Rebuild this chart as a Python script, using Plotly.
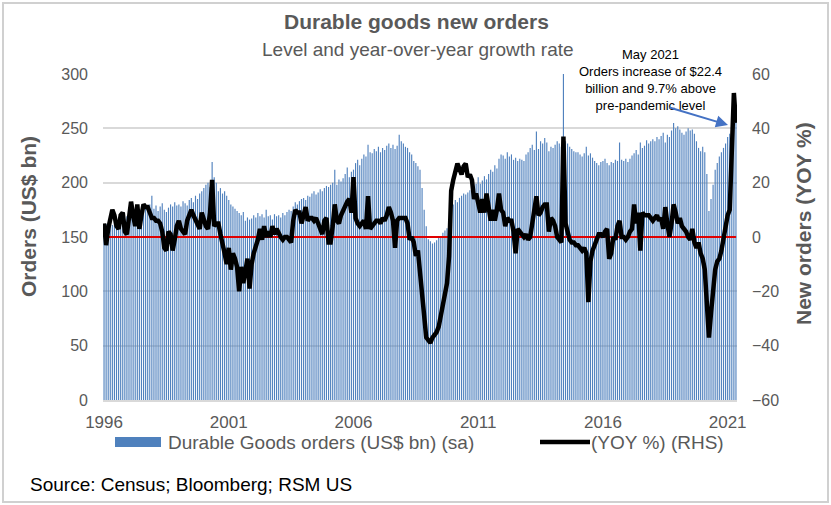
import pandas as pd
import plotly.graph_objects as go

# Durable goods new orders, US$ bn (sa), monthly Jan 1996 - May 2021
orders_bn = [
    158, 162, 160, 164, 161, 165, 163, 167, 164, 168, 166, 169,  # 1996
    170, 168, 173, 171, 175, 172, 176, 174, 178, 175, 180, 188,  # 1997
    176, 179, 174, 178, 181, 175, 173, 177, 180, 178, 182, 179,  # 1998
    180, 178, 183, 181, 179, 184, 186, 182, 188, 185, 190, 192,  # 1999
    195, 198, 200, 196, 219, 205, 200, 192, 195, 190, 192, 188,  # 2000
    184, 180, 178, 176, 174, 172, 170, 173, 165, 168, 166, 167,  # 2001
    170, 168, 172, 169, 171, 168, 175, 169, 170, 166, 171, 169,  # 2002
    170, 168, 172, 170, 173, 175, 174, 178, 182, 180, 183, 185,  # 2003
    186, 184, 188, 187, 190, 192, 189, 191, 194, 192, 195, 197,  # 2004
    196, 198, 200, 212, 198, 203, 201, 204, 208, 214, 205, 210,  # 2005
    212, 218, 221, 216, 222, 226, 224, 235, 228, 227, 231, 229,  # 2006
    233, 228, 232, 230, 234, 236, 232, 235, 231, 234, 244, 238,  # 2007
    236, 233, 232, 228, 226, 220, 218, 215, 212, 195, 175, 160,  # 2008
    148, 146, 144, 145, 147, 150, 151, 154, 156, 158, 160, 163,  # 2009
    180, 184, 182, 186, 188, 190, 189, 191, 193, 192, 196, 199,  # 2010
    205, 199, 202, 206, 203, 208, 212, 210, 216, 213, 222, 226,  # 2011
    225, 222, 228, 224, 226, 221, 223, 220, 222, 221, 220, 226,  # 2012
    228, 232, 235, 230, 247, 231, 238, 236, 241, 237, 229, 233,  # 2013
    232, 235, 238, 236, 233, 300, 238, 236, 233, 231, 229, 228,  # 2014
    228, 226, 224, 227, 233, 225, 227, 223, 220, 218, 216, 219,  # 2015
    220, 222, 218, 216, 219, 218, 221, 220, 237, 221, 220, 222,  # 2016
    219, 222, 225, 227, 230, 226, 237, 232, 234, 239, 236, 238,  # 2017
    240, 238, 242, 240, 243, 246, 237, 244, 242, 248, 255, 250,  # 2018
    252, 249, 246, 244, 247, 250, 248, 249, 245, 238, 232, 229,  # 2019
    233, 228, 208, 174, 185, 198, 212, 218, 224, 228, 232, 236,  # 2020
    242, 245, 250, 252, 256,                                      # 2021
]

# Year-over-year growth rate, %
yoy_pct = [
    5, -3, 3, 6, 10, 8, 4, 3, 8, 9, 2, 1,              # 1996
    6, 13, 8, 4, 12, 3, 8, 12, 11, 11, 9, 7,           # 1997
    7, 6, 6, 5, 2, -4, -5, 2, 1, -5, -1, 4,            # 1998
    6, 3, 2, 1, 6, 8, 10, 8, 6, 4, 3, 9,               # 1999
    6, 4, 3, 9, 21, 4, 5, 5, 1, -2, -6, -10,           # 2000
    -4, -12, -6, -8, -11, -20, -11, -17, -12, -8, -19, -10,  # 2001
    -6, -4, -1, 3, -1, 4, 0, 2, 0, 4, 1, 3,            # 2002
    1, 0, -1, 0, 0, -1, -2, 6, 10, 9, 9, 5,            # 2003
    9, 11, 6, 7, 7, 6, 7, 5, 3, 1, 6, 7,               # 2004
    -2, -2, 4, 12, 6, 5, 8, 10, 12, 13, 14, 9,         # 2005
    22, 7, 5, 4, 5, 6, 3, 15, 3, 4, 5, 6,              # 2006
    6, 5, 7, 6, 8, 11, 9, 6, -4, 6, 7, 7,              # 2007
    7, 7, 5, -1, 0, -2, -7, -5, -13, -22, -31, -37,    # 2008
    -38, -39, -37, -36, -35, -33, -29, -26, -22, -17, -7, 17,  # 2009
    21, 25, 27, 25, 23, 26, 27, 22, 23, 21, 14, 16,    # 2010
    12, 9, 14, 9, 16, 12, 6, 10, 6, 10, 16, 10,        # 2011
    9, 4, 7, 6, 6, 2, -6, 3, 2, 1, 0, 1,               # 2012
    -1, 0, 5, 10, 15, 8, 9, 11, 12, 12, 2, 7,          # 2013
    6, 4, 0, -1, -2, 37, 5, 2, -1, -2, -2, -3,         # 2014
    -3, -4, -5, -4, -6, -24, -9, -5, -3, -1, 1, 1,     # 2015
    0, 2, 3, -8, -6, 0, -1, 4, 6, 0, 0, -1,            # 2016
    0, 2, 3, 12, 5, 9, -5, 9, 8, 8, 8, 7,              # 2017
    6, 7, 8, 6, 7, 3, 11, 5, 0, 5, 12, 9,              # 2018
    5, 7, 4, 3, 2, 0, -1, 3, -2, -4, -2, -6,           # 2019
    -8, -12, -26, -37, -28, -18, -12, -9, -8, -5, 0, 5,  # 2020
    8, 10, 30, 53, 42,                                 # 2021
]

tick_years = [1996, 2001, 2006, 2011, 2016, 2021]
zero_ref = 0

months = pd.date_range("1996-01-01", periods=len(orders_bn), freq="MS").strftime("%Y-%m").tolist()
tickvals = [f"{y}-01" for y in tick_years]
ticktext = [str(y) for y in tick_years]

FONT = "Arial, 'Liberation Sans', sans-serif"
GREY = "#595959"
BAR_BLUE = "rgba(79,129,189,0.99)"

fig = go.Figure()
fig.add_trace(go.Bar(
    x=months, y=orders_bn, name="Durable Goods orders (US$ bn) (sa)",
    marker=dict(color=BAR_BLUE, line=dict(width=0)), yaxis="y", showlegend=False,
))
fig.add_trace(go.Scatter(
    x=[months[0], months[-1]], y=[zero_ref, zero_ref], mode="lines",
    line=dict(color="#E00000", width=2), yaxis="y2", showlegend=False, hoverinfo="skip",
))
fig.add_trace(go.Scatter(
    x=months, y=yoy_pct, name="(YOY %) (RHS)", mode="lines",
    line=dict(color="black", width=4.5), yaxis="y2", showlegend=False,
))

# plot area: x 103..737, y 74..400 (px)
L, R, T, B = 103, 737, 74, 400
W, H = R - L, B - T
def px(x):
    return (x - L) / W
def py(y):
    return (B - y) / H

fig.update_layout(
    width=831, height=505,
    margin=dict(l=L, r=831 - R, t=T, b=505 - B),
    paper_bgcolor="white", plot_bgcolor="white",
    font=dict(family=FONT, color=GREY, size=16),
    bargap=0.45,
    xaxis=dict(
        type="category", range=[-0.5, len(months) - 0.5],
        tickmode="array", tickvals=tickvals, ticktext=ticktext,
        showgrid=False, showline=True, linecolor="#d9d9d9", linewidth=2,
        ticks="", tickfont=dict(size=17, color=GREY), ticklabelstandoff=6,
    ),
    yaxis=dict(
        range=[0, 300], dtick=50, showgrid=True, gridcolor="#d9d9d9", gridwidth=1.5,
        zeroline=False, ticks="", tickfont=dict(size=16, color=GREY), ticklabelstandoff=14,
    ),
    yaxis2=dict(
        range=[-60, 60], dtick=20, overlaying="y", side="right", showgrid=False,
        zeroline=False, ticks="", tickfont=dict(size=16, color=GREY), ticklabelstandoff=14,
    ),
    showlegend=False,
)

ann = []
ann.append(dict(text="<b>Durable goods new orders</b>", x=px(416), y=py(21), xref="paper", yref="paper",
                showarrow=False, font=dict(size=21, color=GREY), xanchor="center", yanchor="middle"))
ann.append(dict(text="Level and year-over-year growth rate", x=px(418), y=py(50), xref="paper", yref="paper",
                showarrow=False, font=dict(size=19, color=GREY), xanchor="center", yanchor="middle"))
ann.append(dict(text="May 2021<br>Orders increase of $22.4<br>billion and 9.7% above<br>pre-pandemic level",
                x=px(650), y=py(80), xref="paper", yref="paper", showarrow=False,
                font=dict(size=13, color="black"), xanchor="center", yanchor="middle", align="center"))
ann.append(dict(text="", x=px(728), y=py(125), xref="paper", yref="paper", showarrow=True,
                ax=668 - 728, ay=107 - 125, arrowcolor="#4472C4", arrowwidth=2, arrowhead=2, arrowsize=1.2))
ann.append(dict(text="<b>Orders (US$ bn)</b>", x=px(28), y=py(217), xref="paper", yref="paper",
                textangle=-90, showarrow=False, font=dict(size=21, color=GREY), xanchor="center", yanchor="middle"))
ann.append(dict(text="<b>New orders (YOY %)</b>", x=px(803), y=py(224), xref="paper", yref="paper",
                textangle=-90, showarrow=False, font=dict(size=21, color=GREY), xanchor="center", yanchor="middle"))
# legend entries
ann.append(dict(text="Durable Goods orders (US$ bn) (sa)", x=px(166), y=py(442), xref="paper", yref="paper",
                showarrow=False, font=dict(size=19, color=GREY), xanchor="left", yanchor="middle"))
ann.append(dict(text="(YOY %) (RHS)", x=px(589), y=py(442), xref="paper", yref="paper",
                showarrow=False, font=dict(size=19, color=GREY), xanchor="left", yanchor="middle"))
ann.append(dict(text="Source: Census; Bloomberg; RSM US", x=px(28), y=py(484), xref="paper", yref="paper",
                showarrow=False, font=dict(size=19, color="black"), xanchor="left", yanchor="middle"))
fig.update_layout(annotations=ann)

shapes = [
    dict(type="rect", xref="paper", yref="paper", x0=px(115), x1=px(161), y0=py(447), y1=py(437),
         fillcolor="#4F81BD", line=dict(width=0)),
    dict(type="line", xref="paper", yref="paper", x0=px(540), x1=px(590), y0=py(442), y1=py(442),
         line=dict(color="black", width=4.5)),
    dict(type="rect", xref="paper", yref="paper", x0=px(3), x1=px(828), y0=py(3), y1=py(502),
         line=dict(color="#d0d0d0", width=2), fillcolor="rgba(0,0,0,0)", layer="below"),
]
fig.update_layout(shapes=shapes)

fig.write_html("out.html", config={"displayModeBar": False},
               post_script="document.body.style.margin='0px';")
